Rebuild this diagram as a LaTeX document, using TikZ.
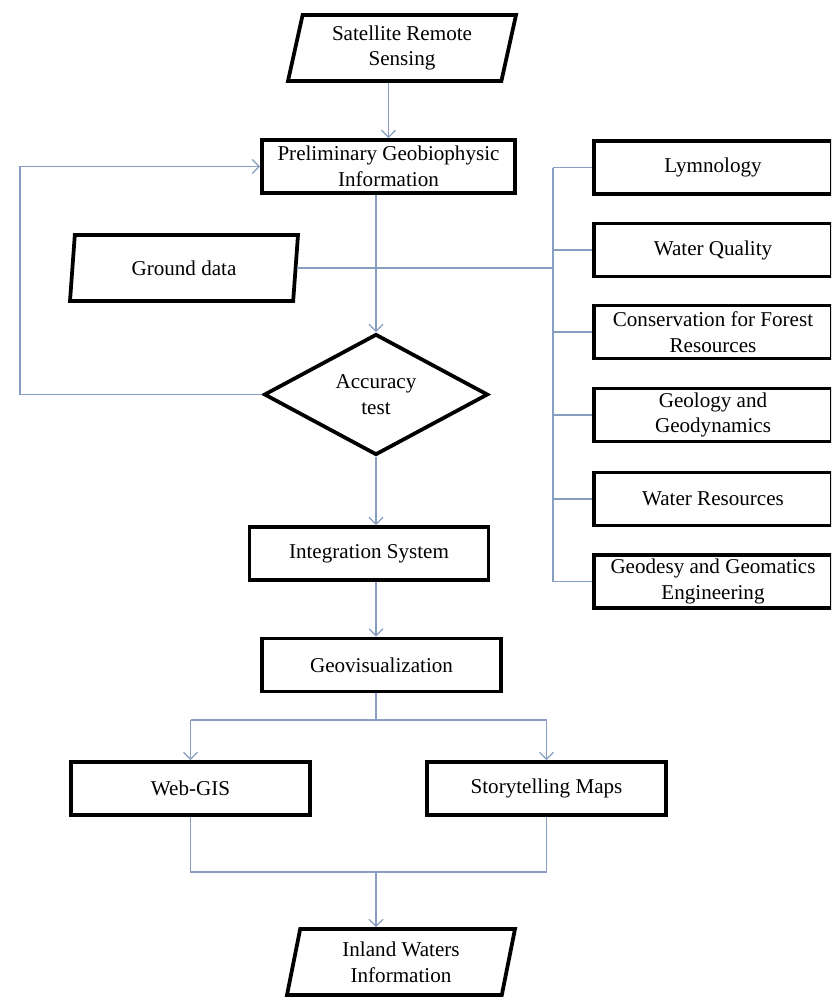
\documentclass[tikz,border=0pt]{standalone}
\usepackage{fontspec}
\setmainfont{Liberation Serif}
\usetikzlibrary{shapes.geometric}
\usetikzlibrary{arrows.meta}

\definecolor{linkblue}{RGB}{135,158,192}

\tikzset{
    box/.style={draw, rectangle, line width=3.2pt, inner sep=0pt, align=center,
        minimum width=239*\pu, minimum height=53*\pu, font=\fontsize{18}{22}\selectfont},
    io/.style={draw, trapezium, trapezium left angle=72, trapezium right angle=108,
        trapezium stretches body, line width=3.2pt, inner sep=0pt, align=center,
        minimum width=228*\pu, minimum height=66*\pu, font=\fontsize{18}{22}\selectfont},
    test/.style={draw, diamond, line width=3.2pt, inner sep=0pt, align=center,
        minimum width=224*\pu, minimum height=121*\pu, font=\fontsize{18}{22}\selectfont},
    link/.style={draw=linkblue, line width=1pt},
    arrow/.style={link, -{Straight Barb[length=6pt,width=12pt]}}
}

\begin{document}
\begin{tikzpicture}[x=0.03cm, y=-0.03cm]
            % One pixel of the reference
            \def\pu{0.03cm}

            % Page frame
            \clip (0,0) rectangle (831,999);

            % Main column
            \node[io] (sat) at (402,48) {Satellite Remote\\Sensing};
            \node[box, minimum width=253*\pu] (prelim) at (388.5,166.5) {Preliminary Geobiophysic\\Information};
            \node[io] (ground) at (184,268) {Ground data};
            \node[test] (acc) at (376,394.5) {Accuracy\\test};
            \node[box] (int) at (369,553.5) {Integration System};
            \node[box] (geo) at (381.5,665) {Geovisualization};
            \node[box] (web) at (190.5,788.5) {Web-GIS};
            \node[box] (story) at (546.5,788.5) {Storytelling Maps};
            \node[io] (inland) at (401,962) {Inland Waters\\Information};

            % Application fields
            \node[box, minimum width=238*\pu] (lym) at (713,167.5) {Lymnology};
            \node[box, minimum width=238*\pu] (wq) at (713,250) {Water Quality};
            \node[box, minimum width=238*\pu] (cons) at (713,332) {Conservation for Forest\\Resources};
            \node[box, minimum width=238*\pu] (geol) at (713,415) {Geology and\\Geodynamics};
            \node[box, minimum width=238*\pu] (wres) at (713,499) {Water Resources};
            \node[box, minimum width=238*\pu] (geod) at (713,581.5) {Geodesy and Geomatics\\Engineering};

            % Helper points
            \coordinate (loop) at (20,0);
            \coordinate (bus) at (553,0);
            \coordinate (split) at (376,720);
            \coordinate (join) at (376,872);

            % Flow
            \draw[arrow] (prelim.north |- sat.south) -- (prelim.north);
            \draw[arrow] (acc.north |- prelim.south) -- (acc.north);
            \draw[arrow] (acc.south) -- (acc.south |- int.north);
            \draw[arrow] (acc.south |- int.south) -- (acc.south |- geo.north);
            \draw[arrow] (acc.west) -- (acc.west -| loop) |- (prelim.west);

            % Ground data and the fields
            \draw[link] (ground.east) -- (ground.east -| bus);
            \draw[link] (bus |- lym.west) -- (bus |- geod.west);
            \draw[link] (bus |- lym.west) -- (lym.west);
            \draw[link] (bus |- wq.west) -- (wq.west);
            \draw[link] (bus |- cons.west) -- (cons.west);
            \draw[link] (bus |- geol.west) -- (geol.west);
            \draw[link] (bus |- wres.west) -- (wres.west);
            \draw[link] (bus |- geod.west) -- (geod.west);

            % Outputs
            \draw[link] (split |- geo.south) -- (split);
            \draw[link] (web.north |- split) -- (story.north |- split);
            \draw[arrow] (web.north |- split) -- (web.north);
            \draw[arrow] (story.north |- split) -- (story.north);
            \draw[link] (web.south) -- (web.south |- join) -- (story.south |- join) -- (story.south);
            \draw[arrow] (join) -- (join |- inland.north);

        \end{tikzpicture}
\end{document}
